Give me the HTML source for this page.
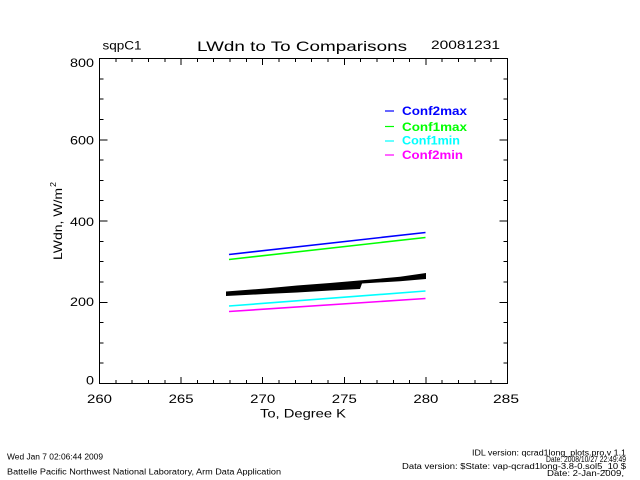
<!DOCTYPE html>
<html><head><meta charset="utf-8"><style>
html,body{margin:0;padding:0;background:#fff;}
svg{display:block;}
text{font-family:"Liberation Sans",sans-serif;fill:#000;}
</style></head><body>
<svg width="640" height="480" viewBox="0 0 640 480" xmlns="http://www.w3.org/2000/svg">
<rect width="640" height="480" fill="#fff"/>
<!-- header -->
<text x="102.5" y="49.5" font-size="12" textLength="39" lengthAdjust="spacingAndGlyphs">sqpC1</text>
<text x="197" y="51" font-size="14" textLength="210" lengthAdjust="spacingAndGlyphs">LWdn to To Comparisons</text>
<text x="431" y="49" font-size="12" textLength="69" lengthAdjust="spacingAndGlyphs">20081231</text>
<!-- plot box -->
<g stroke="#000" stroke-width="1" shape-rendering="crispEdges" fill="none">
<rect x="99.5" y="58.5" width="408" height="325"/>
<path d="
M99.5 383.5v-6.5 M115.8 383.5v-3.3 M132.1 383.5v-3.3 M148.5 383.5v-3.3 M164.8 383.5v-3.3
M181.1 383.5v-6.5 M197.4 383.5v-3.3 M213.7 383.5v-3.3 M230.1 383.5v-3.3 M246.4 383.5v-3.3
M262.7 383.5v-6.5 M279.0 383.5v-3.3 M295.3 383.5v-3.3 M311.7 383.5v-3.3 M328.0 383.5v-3.3
M344.3 383.5v-6.5 M360.6 383.5v-3.3 M376.9 383.5v-3.3 M393.3 383.5v-3.3 M409.6 383.5v-3.3
M425.9 383.5v-6.5 M442.2 383.5v-3.3 M458.5 383.5v-3.3 M474.9 383.5v-3.3 M491.2 383.5v-3.3
M99.5 58.5v6.5 M115.8 58.5v3.3 M132.1 58.5v3.3 M148.5 58.5v3.3 M164.8 58.5v3.3
M181.1 58.5v6.5 M197.4 58.5v3.3 M213.7 58.5v3.3 M230.1 58.5v3.3 M246.4 58.5v3.3
M262.7 58.5v6.5 M279.0 58.5v3.3 M295.3 58.5v3.3 M311.7 58.5v3.3 M328.0 58.5v3.3
M344.3 58.5v6.5 M360.6 58.5v3.3 M376.9 58.5v3.3 M393.3 58.5v3.3 M409.6 58.5v3.3
M425.9 58.5v6.5 M442.2 58.5v3.3 M458.5 58.5v3.3 M474.9 58.5v3.3 M491.2 58.5v3.3
M99.5 363.2h4 M99.5 342.9h4 M99.5 322.6h4 M99.5 302.3h8
M99.5 281.9h4 M99.5 261.6h4 M99.5 241.3h4 M99.5 221.0h8
M99.5 200.7h4 M99.5 180.4h4 M99.5 160.1h4 M99.5 139.8h8
M99.5 119.4h4 M99.5 99.1h4 M99.5 78.8h4
M507.5 363.2h-4 M507.5 342.9h-4 M507.5 322.6h-4 M507.5 302.3h-8
M507.5 281.9h-4 M507.5 261.6h-4 M507.5 241.3h-4 M507.5 221.0h-8
M507.5 200.7h-4 M507.5 180.4h-4 M507.5 160.1h-4 M507.5 139.8h-8
M507.5 119.4h-4 M507.5 99.1h-4 M507.5 78.8h-4
"/>
</g>
<!-- y tick labels -->
<g font-size="12" text-anchor="end">
<text x="94" y="67" textLength="24" lengthAdjust="spacingAndGlyphs">800</text>
<text x="94" y="144.5" textLength="24" lengthAdjust="spacingAndGlyphs">600</text>
<text x="94" y="226" textLength="24" lengthAdjust="spacingAndGlyphs">400</text>
<text x="94" y="306" textLength="24" lengthAdjust="spacingAndGlyphs">200</text>
<text x="94" y="384.5" textLength="8" lengthAdjust="spacingAndGlyphs">0</text>
</g>
<!-- x tick labels -->
<g font-size="12">
<text x="87" y="403" textLength="25" lengthAdjust="spacingAndGlyphs">260</text>
<text x="168.6" y="403" textLength="25" lengthAdjust="spacingAndGlyphs">265</text>
<text x="250.2" y="403" textLength="25" lengthAdjust="spacingAndGlyphs">270</text>
<text x="331.8" y="403" textLength="25" lengthAdjust="spacingAndGlyphs">275</text>
<text x="413.4" y="403" textLength="25" lengthAdjust="spacingAndGlyphs">280</text>
<text x="493" y="403" textLength="26" lengthAdjust="spacingAndGlyphs">285</text>
</g>
<text x="260" y="417.5" font-size="12" textLength="86" lengthAdjust="spacingAndGlyphs">To, Degree K</text>
<!-- y axis title -->
<g transform="translate(62,260) rotate(-90)">
<text x="0" y="0" font-size="12" textLength="72" lengthAdjust="spacingAndGlyphs">LWdn, W/m</text>
<text x="73" y="-6" font-size="8" textLength="5" lengthAdjust="spacingAndGlyphs">2</text>
</g>
<!-- data -->
<g fill="none" stroke-width="1.6">
<line x1="229" y1="254.5" x2="425.5" y2="232.5" stroke="#0000ff"/>
<line x1="229" y1="259.5" x2="425.5" y2="237.5" stroke="#00ff00"/>
<line x1="229" y1="306" x2="425.5" y2="291" stroke="#00ffff"/>
<line x1="229" y1="311.5" x2="425.5" y2="298.5" stroke="#ff00ff"/>
</g>
<polygon fill="#000" points="226,291.5 265,288.5 297,285.5 330,283 365,280 400,276.8 426,273 426,279 400,281.2 362,283.5 360,289 330,290.5 297,292.5 265,294 226,296"/>
<!-- legend -->
<g stroke-width="1.2">
<line x1="385" y1="111" x2="394" y2="111" stroke="#0000ff"/>
<line x1="385" y1="126.5" x2="394" y2="126.5" stroke="#00ff00"/>
<line x1="385" y1="141" x2="394" y2="141" stroke="#00ffff"/>
<line x1="385" y1="155" x2="394" y2="155" stroke="#ff00ff"/>
</g>
<g font-size="12" font-weight="bold">
<text x="402" y="115" style="fill:#0000ff" textLength="65" lengthAdjust="spacingAndGlyphs">Conf2max</text>
<text x="402" y="131" style="fill:#00ff00" textLength="65" lengthAdjust="spacingAndGlyphs">Conf1max</text>
<text x="402" y="144.5" style="fill:#00ffff" textLength="58" lengthAdjust="spacingAndGlyphs">Conf1min</text>
<text x="402" y="159" style="fill:#ff00ff" textLength="61" lengthAdjust="spacingAndGlyphs">Conf2min</text>
</g>
<!-- footer -->
<g font-size="8">
<text x="7" y="459.5" textLength="96" lengthAdjust="spacingAndGlyphs">Wed Jan  7 02:06:44 2009</text>
<text x="7" y="474.5" textLength="274" lengthAdjust="spacingAndGlyphs">Battelle Pacific Northwest National Laboratory, Arm Data Application</text>
<text x="472" y="455.5" textLength="154" lengthAdjust="spacingAndGlyphs">IDL version: qcrad1long_plots.pro,v 1.1</text>
<text x="546" y="462" textLength="80" lengthAdjust="spacingAndGlyphs">Date: 2008/10/27 22:49:49</text>
<text x="402" y="469" textLength="224" lengthAdjust="spacingAndGlyphs">Data version: $State: vap-qcrad1long-3.8-0.sol5_10 $</text>
<text x="547" y="476" textLength="77" lengthAdjust="spacingAndGlyphs">Date: 2-Jan-2009,</text>
</g>
</svg>
</body></html>
